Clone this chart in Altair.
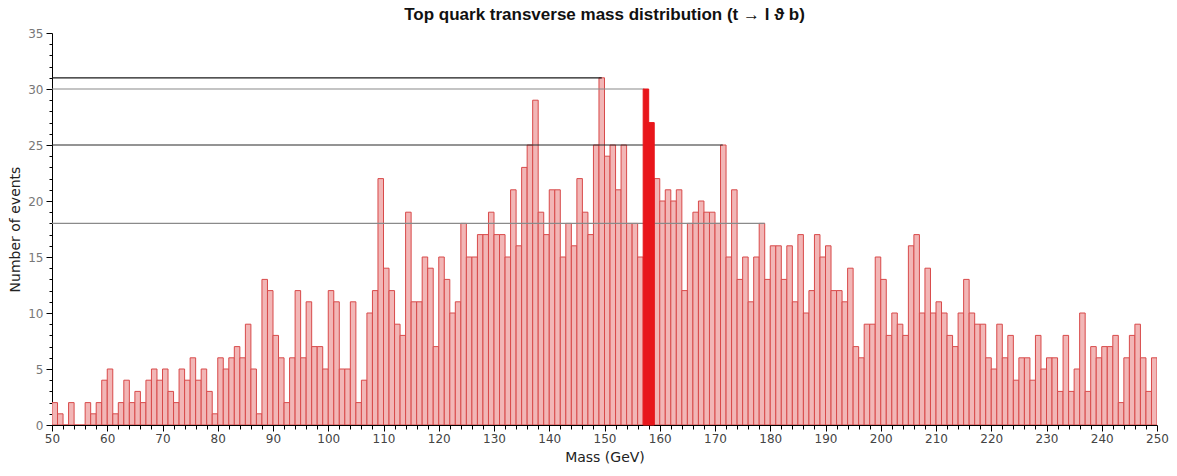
import altair as alt
import pandas as pd

# Histogram bins (left edges, GeV) and event counts
bin_lo = list(range(50, 250))
counts = [
    2, 1, 0, 2, 0, 0, 2, 1, 2, 4,      # 50-59
    5, 1, 2, 4, 2, 3, 2, 4, 5, 4,      # 60-69
    5, 3, 2, 5, 4, 6, 4, 5, 3, 1,      # 70-79
    6, 5, 6, 7, 6, 9, 5, 1, 13, 12,    # 80-89
    8, 6, 2, 6, 12, 6, 11, 7, 7, 5,    # 90-99
    12, 11, 5, 5, 11, 2, 4, 10, 12, 22,  # 100-109
    14, 12, 9, 8, 19, 11, 11, 15, 14, 7,  # 110-119
    15, 13, 10, 11, 18, 15, 15, 17, 17, 19,  # 120-129
    17, 17, 15, 21, 16, 23, 25, 29, 19, 17,  # 130-139
    21, 21, 15, 18, 16, 22, 19, 17, 25, 31,  # 140-149
    24, 25, 21, 25, 18, 18, 15, 30, 27, 22,  # 150-159
    20, 21, 20, 21, 12, 18, 19, 20, 19, 19,  # 160-169
    18, 25, 15, 21, 13, 15, 11, 15, 18, 13,  # 170-179
    16, 16, 13, 16, 11, 17, 10, 12, 17, 15,  # 180-189
    16, 12, 12, 11, 14, 7, 6, 9, 9, 15,   # 190-199
    13, 8, 10, 9, 8, 16, 17, 10, 14, 10,  # 200-209
    11, 10, 8, 7, 10, 13, 10, 9, 9, 6,    # 210-219
    5, 9, 6, 8, 4, 6, 6, 4, 8, 5,         # 220-229
    6, 6, 3, 8, 3, 5, 10, 3, 7, 6,        # 230-239
    7, 7, 8, 2, 6, 8, 9, 6, 3, 6,         # 240-249
]
highlight_bins = [157, 158]

# Horizontal reference lines
ref_level = [31, 30, 25, 18]
ref_end = [149.5, 157.2, 171.4, 179.0]
ref_color = ["#1a1a1a", "#8a8a8a", "#2a2a2a", "#8a8a8a"]

df = pd.DataFrame({
    "lo": bin_lo,
    "hi": [b + 1 for b in bin_lo],
    "count": counts,
    "hl": [b in highlight_bins for b in bin_lo],
})
refs = pd.DataFrame({"start": [50] * len(ref_level), "end": ref_end,
                     "level": ref_level, "col": ref_color})

xscale = alt.Scale(domain=[50, 250], nice=False, zero=False)
yscale = alt.Scale(domain=[0, 35], nice=False)

xaxis = alt.Axis(
    values=list(range(50, 251, 2)),
    labelExpr="datum.value % 10 === 0 ? datum.label : ''",
    tickSize={"condition": {"test": "datum.value % 10 === 0", "value": 6}, "value": 4},
    labelOverlap=False, labelFlush=False, grid=False,
    labelFont="DejaVu Sans", labelFontSize=12, labelColor="#444444",
    labelPadding=2, domainColor="#000000", tickColor="#000000",
    title="Mass (GeV)", titleFont="DejaVu Sans", titleFontSize=14,
    titleFontWeight="normal", titleColor="#222222", titlePadding=6,
)
yaxis = alt.Axis(
    values=list(range(0, 36)),
    labelExpr="datum.value % 5 === 0 ? datum.label : ''",
    tickSize={"condition": {"test": "datum.value % 5 === 0", "value": 6}, "value": 3},
    labelOverlap=False, labelFlush=False, grid=False,
    labelFont="DejaVu Sans", labelFontSize=12, labelColor="#777777",
    labelPadding=3, domainColor="#000000", tickColor="#000000",
    title="Number of events", titleFont="DejaVu Sans", titleFontSize=14,
    titleFontWeight="normal", titleColor="#222222", titlePadding=5,
)

base = alt.Chart(df)

bars = base.transform_filter("!datum.hl").mark_bar(
    fill="#f2b6b6", stroke="#d84a4a", strokeWidth=1, clip=True
).encode(
    x=alt.X("lo:Q", scale=xscale, axis=xaxis),
    x2="hi:Q",
    y=alt.Y("count:Q", scale=yscale, axis=yaxis),
    y2=alt.datum(0),
)

hl_bars = base.transform_filter("datum.hl").mark_bar(
    fill="#e8161b", stroke="#e8161b", strokeWidth=1
).encode(
    x=alt.X("lo:Q", scale=xscale, axis=xaxis),
    x2="hi:Q",
    y=alt.Y("count:Q", scale=yscale, axis=yaxis),
    y2=alt.datum(0),
)

rules = alt.Chart(refs).mark_rule(strokeWidth=1.2).encode(
    x=alt.X("start:Q", scale=xscale, axis=xaxis),
    x2="end:Q",
    y=alt.Y("level:Q", scale=yscale, axis=yaxis),
    color=alt.Color("col:N", scale=None),
)

chart = alt.layer(bars, rules, hl_bars).properties(
    width=1105,
    height=392,
    title=alt.TitleParams(
        "Top quark transverse mass distribution (t \u2192 l \u03d1 b)",
        font="Liberation Sans", fontSize=17, fontWeight="bold",
        color="#111111", anchor="middle", frame="group", offset=3,
    ),
    autosize=alt.AutoSizeParams(type="none"),
    padding={"left": 52, "top": 33, "right": 20, "bottom": 51},
).configure_view(stroke=None)

chart.save("out.html", embed_options={"renderer": "svg", "actions": False})
